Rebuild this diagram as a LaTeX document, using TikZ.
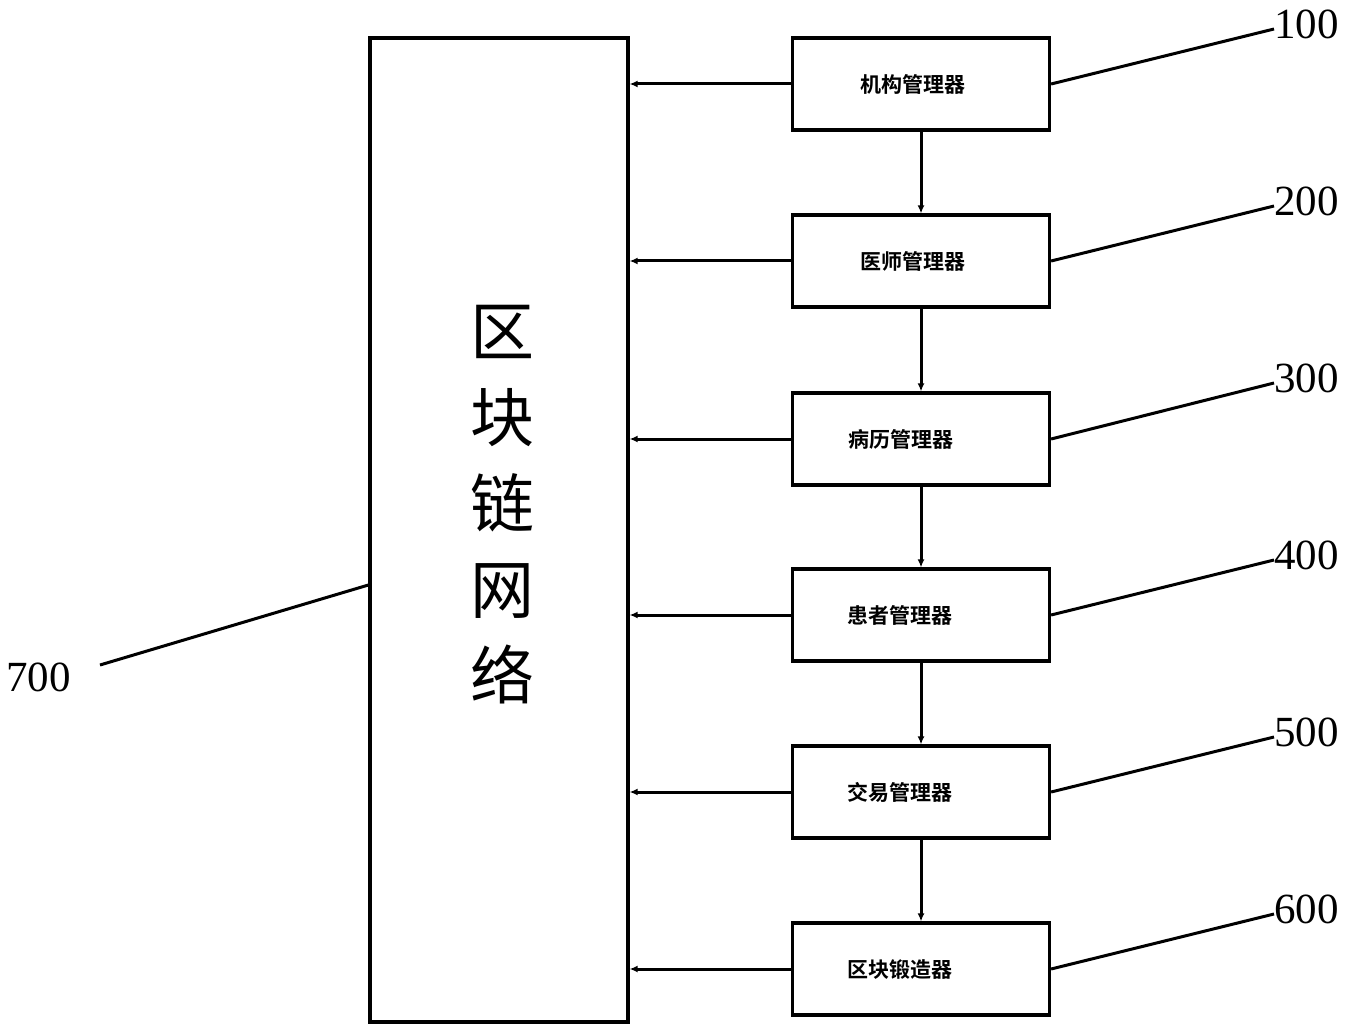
\documentclass[tikz,border=0pt]{standalone}
\usepackage{fontspec}
\setmainfont{Liberation Serif}
\newfontfamily\cjk{Noto Sans CJK SC}
\newfontfamily\cjkb{Noto Sans CJK SC Bold}
\usetikzlibrary{arrows.meta}
\begin{document}
\begin{tikzpicture}[x=1pt,y=-1pt,
  box/.style={draw,line width=3.2pt,minimum width=257pt,minimum height=92pt,inner sep=0pt},
  lbl/.style={font=\cjkb\fontsize{21}{24}\selectfont,inner sep=0pt},
  conn/.style={line width=3pt,-{Latex[length=8pt,width=7pt]}},
  lead/.style={line width=3pt},
  num/.style={font=\fontsize{43}{46}\selectfont,inner sep=0pt}]
\useasboundingbox (0,0) rectangle (1351,1032);
\node[draw,line width=3.2pt,minimum width=258pt,minimum height=984pt,inner sep=0pt] (net) at (499,530) {};
\node[font=\cjk\fontsize{64}{86}\selectfont,align=center,inner sep=0pt] (nettxt) at (502,505) {区\\块\\链\\网\\络};
\foreach \i/\y/\t/\dx in {1/84/机构管理器/-8,2/261/医师管理器/-8,3/439/病历管理器/-20,4/615/患者管理器/-21,5/792/交易管理器/-21,6/969/区块锻造器/-21}{
  \node[box] (b\i) at (921,\y) {};
  \node[lbl] (t\i) at (921+\dx,\y) {\t};
  \draw[conn] (b\i.west) -- (net.east |- b\i.west);
}
\foreach \i/\j in {1/2,2/3,3/4,4/5,5/6}{
  \draw[conn] (b\i.south) -- (b\j.north);
}
\foreach \i/\y/\n in {1/24/100,2/201/200,3/378/300,4/555/400,5/732/500,6/909/600}{
  \node[num,anchor=west] (n\i) at (1274,\y) {\n};
  \coordinate (e\i) at (1274,\y+5);
  \draw[lead] (b\i.east) -- (e\i);
}
\node[num,anchor=west] (n7) at (6,677) {700};
\coordinate (s7) at (100,665);
\draw[lead] (s7) -- (net.west |- 0,585);
\end{tikzpicture}
\end{document}
